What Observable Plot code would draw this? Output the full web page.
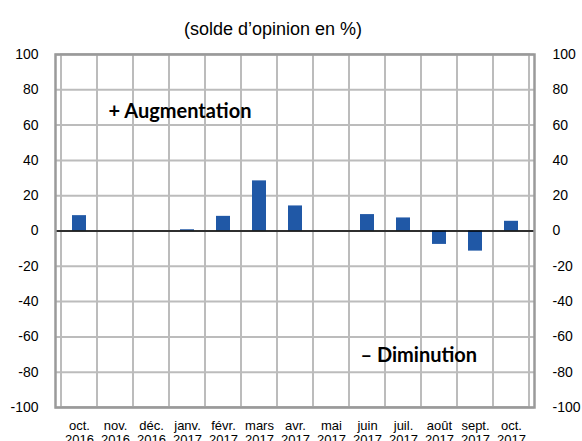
<!DOCTYPE html>
<html>
<head>
<meta charset="utf-8">
<script src="https://cdn.jsdelivr.net/npm/d3@7"></script>
<script src="https://cdn.jsdelivr.net/npm/@observablehq/plot@0.6"></script>
<style>
  body { margin: 0; background: #fff; }
  #chart svg { display: block; }
</style>
</head>
<body>
<div id="chart"></div>
<script>
const months = ["oct.\n2016", "nov.\n2016", "déc.\n2016", "janv.\n2017", "févr.\n2017", "mars\n2017", "avr.\n2017", "mai\n2017", "juin\n2017", "juil.\n2017", "août\n2017", "sept.\n2017", "oct.\n2017"];
const values = [8.7, 0, 0, 0.7, 8.3, 28.4, 14.2, 0, 9.3, 7.4, -7.6, -11.4, 5.5];
const yTicks = [-100, -80, -60, -40, -20, 0, 20, 40, 60, 80, 100];
const title = "(solde d’opinion en %)";
const annotText = ["+ Augmentation", "– Diminution"];
const annotX = ["nov.\n2016", "juin\n2017"];
const annotY = [67.5, -70.6];

const data = months.map((m, i) => ({month: m, value: values[i]}));
const annots = annotText.map((t, i) => ({text: t, x: annotX[i], y: annotY[i]}));

const chart = Plot.plot({
  width: 582,
  height: 441,
  marginLeft: 55,
  marginRight: 48,
  marginTop: 54,
  marginBottom: 34,
  style: {fontFamily: "'Liberation Sans', Arial, sans-serif", fontSize: "14px", color: "#000", background: "#fff"},
  x: {type: "band", domain: months, padding: 0, label: null},
  y: {domain: [-100, 100], label: null},
  marks: [
    Plot.barY(months, {x: d => d, y1: -100, y2: 100, fill: "none", stroke: "#bcbcbc", strokeWidth: 2, strokeOpacity: 1}),
    Plot.ruleY(yTicks, {stroke: "#bcbcbc", strokeWidth: 2, strokeOpacity: 1}),
    Plot.barY(data, {x: "month", y: "value", fill: "#2058a6", insetLeft: 11, insetRight: 11}),
    Plot.ruleY([0], {stroke: "#000", strokeWidth: 1.5}),
    Plot.frame({stroke: "#9a9a9a", strokeWidth: 2.5, strokeOpacity: 1}),
    Plot.axisY(yTicks, {anchor: "left", tickSize: 0, tickPadding: 17, tickFormat: d => String(d), fontSize: 14}),
    Plot.axisY(yTicks, {anchor: "right", tickSize: 0, tickPadding: 18, tickFormat: d => String(d), fontSize: 14}),
    Plot.axisX({anchor: "bottom", tickSize: 0, tickPadding: 12, tickFormat: d => d, fontSize: 13, lineHeight: 1.1}),
    Plot.text(annots, {x: "x", y: "y", text: "text", textAnchor: "start", dx: -7, fontFamily: "Lato, 'Open Sans', sans-serif", fontWeight: "bold", fontSize: 20, fill: "#000"}),
    Plot.text([title], {frameAnchor: "top", text: d => d, dx: -22, dy: -32, fontSize: 18, fill: "#000"})
  ]
});
document.getElementById("chart").appendChild(chart);
</script>
</body>
</html>
